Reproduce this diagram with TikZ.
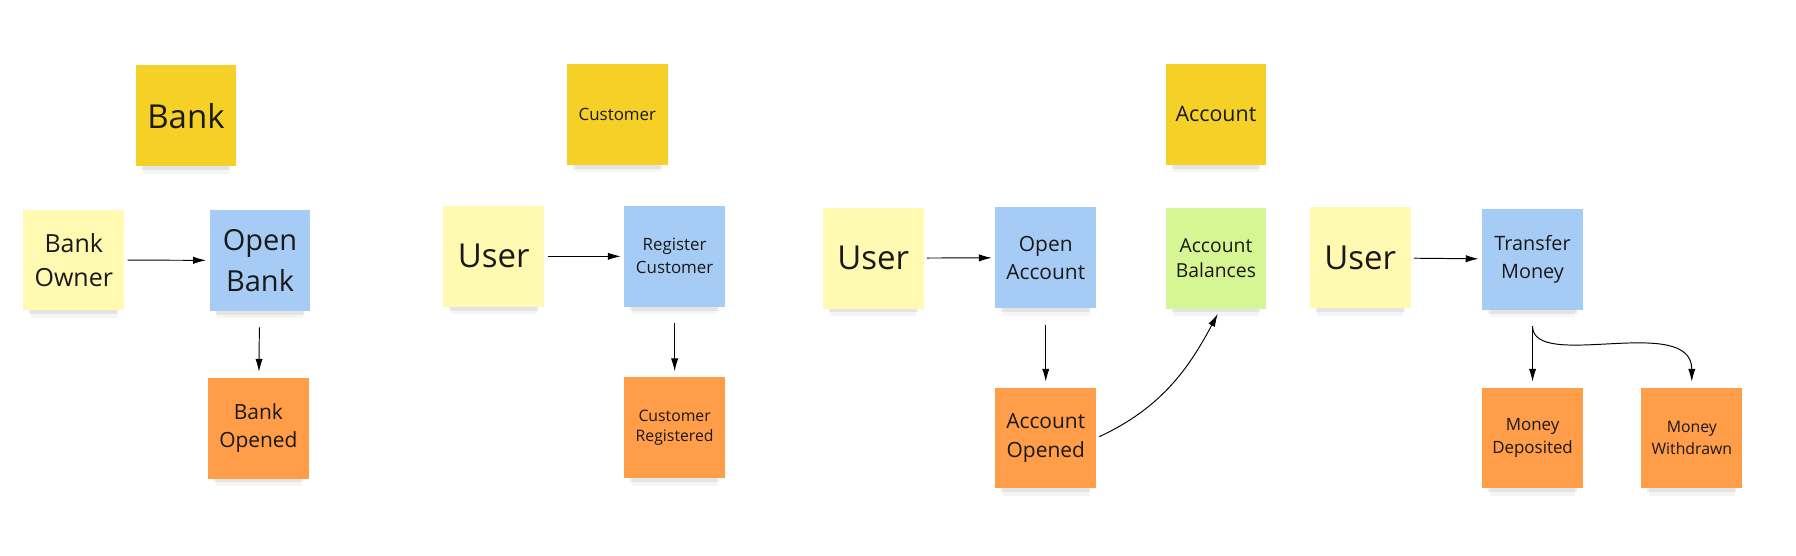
\documentclass[tikz,border=0pt]{standalone}
\usepackage{fontspec}
\setmainfont{Open Sans}
\usetikzlibrary{arrows.meta,shadows}
\definecolor{ctxyellow}{HTML}{F5D128}
\definecolor{actoryellow}{HTML}{FFF9B1}
\definecolor{cmdblue}{HTML}{A6CCF5}
\definecolor{evtorange}{HTML}{FF9D48}
\definecolor{viewgreen}{HTML}{D5F692}

\begin{document}
\begin{tikzpicture}[>={Latex[length=8pt,width=4.5pt]},
		sticky/.style={minimum width=2.2cm, minimum height=2.2cm, inner sep=2pt, align=center, text=black!90,
			drop shadow={shadow xshift=0pt, shadow yshift=-11pt, shadow scale=0.85, opacity=0.08},
			drop shadow={shadow xshift=0pt, shadow yshift=-7pt, shadow scale=0.88, opacity=0.14}},
		context/.style={sticky, fill=ctxyellow},
		actor/.style={sticky, fill=actoryellow},
		command/.style={sticky, fill=cmdblue},
		event/.style={sticky, fill=evtorange},
		readmodel/.style={sticky, fill=viewgreen},
		flow/.style={->, line width=0.6pt, shorten <=2pt, shorten >=2pt},
		toevent/.style={flow, shorten <=10pt, shorten >=3.5pt}]
			%%%	Help Lines
%			\draw [thin, help lines] (0,0) grid (39,12);
			\useasboundingbox[fill=white] (0,0) rectangle (39.2,12.135);
			%%%	Bank
			\node[context, font=\fontsize{20.5}{28}\selectfont] (ctxBank) at (4.06,9.61) {Bank};
			\node[actor, font=\fontsize{15.5}{21.3}\selectfont] (bankOwner) at (1.61,6.46) {Bank\\Owner};
			\node[command, font=\fontsize{18}{25.3}\selectfont] (openBank) at (5.675,6.45) {Open\\Bank};
			\node[event, font=\fontsize{13}{17}\selectfont] (bankOpened) at (5.64,2.79) {Bank\\Opened};
			%%%	Customer
			\node[context, font=\fontsize{10.5}{14}\selectfont] (ctxCustomer) at (13.475,9.64) {Customer};
			\node[actor, font=\fontsize{20.5}{28}\selectfont] (userCustomer) at (10.775,6.54) {User};
			\node[command, font=\fontsize{10.5}{14.3}\selectfont] (registerCustomer) at (14.725,6.54) {Register\\Customer};
			\node[event, font=\fontsize{9.8}{12.8}\selectfont] (customerRegistered) at (14.725,2.8) {Customer\\Registered};
			%%%	Account
			\node[context, font=\fontsize{13.3}{18}\selectfont] (ctxAccount) at (26.54,9.64) {Account};
			\node[actor, font=\fontsize{20.5}{28}\selectfont] (userAccount) at (19.06,6.5) {User};
			\node[command, font=\fontsize{13}{17.6}\selectfont] (openAccount) at (22.825,6.51) {Open\\Account};
			\node[event, font=\fontsize{13}{17.6}\selectfont] (accountOpened) at (22.825,2.575) {Account\\Opened};
			\node[readmodel, font=\fontsize{12}{16}\selectfont] (accountBalances) at (26.54,6.5) {Account\\Balances};
			\node[actor, font=\fontsize{20.5}{28}\selectfont] (userTransfer) at (29.69,6.51) {User};
			\node[command, font=\fontsize{12.3}{17.6}\selectfont] (transferMoney) at (33.45,6.475) {Transfer\\Money};
			\node[event, font=\fontsize{10.5}{13.9}\selectfont] (moneyDeposited) at (33.45,2.575) {Money\\Deposited};
			\node[event, font=\fontsize{9.8}{13.2}\selectfont] (moneyWithdrawn) at (36.925,2.575) {Money\\Withdrawn};
			%%%	Arrows
			\draw[flow] (bankOwner) -- (openBank);
			\draw[toevent] (openBank) -- (bankOpened);
			\draw[flow] (userCustomer) -- (registerCustomer);
			\draw[toevent] (registerCustomer) -- (customerRegistered);
			\draw[flow] (userAccount) -- (openAccount);
			\draw[toevent] (openAccount) -- (accountOpened);
			\draw[flow, shorten >=3.5pt] (accountOpened.east) to[out=25, in=-118] (accountBalances.-85);
			\draw[flow] (userTransfer) -- (transferMoney);
			\draw[toevent] (transferMoney) -- (moneyDeposited);
			\draw[toevent] (transferMoney.south) .. controls +(0,-1.35) and +(0,1.625) .. (moneyWithdrawn.north);
		\end{tikzpicture}
\end{document}
